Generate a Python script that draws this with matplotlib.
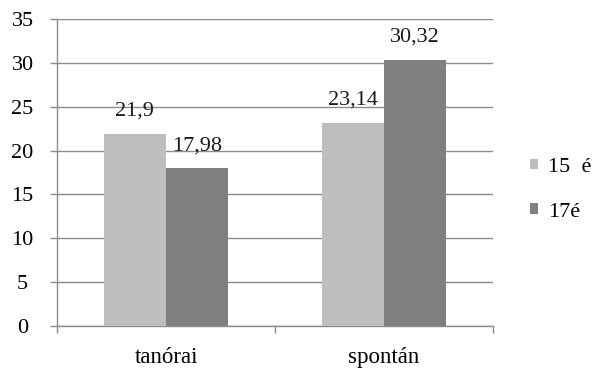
import numpy as np
import matplotlib.pyplot as plt

categories = ['tanórai', 'spontán']
series_names = ['15  é', '17é']
values_15 = [21.9, 23.14]
values_17 = [17.98, 30.32]
value_labels_15 = ['21,9', '23,14']
value_labels_17 = ['17,98', '30,32']

plt.rcParams['font.family'] = ['Liberation Serif', 'DejaVu Serif']
FS = 16

fig = plt.figure(figsize=(5.93, 3.70), dpi=100)
ax = fig.add_axes([0.0961, 0.1189, 0.7353, 0.8297])

x = np.arange(len(categories))
w = 0.285
colors = ['#bebebe', '#7f7f7f']

bars1 = ax.bar(x - w / 2, values_15, w, color=colors[0], label=series_names[0], zorder=3)
bars2 = ax.bar(x + w / 2, values_17, w, color=colors[1], label=series_names[1], zorder=3)

for bars, labels in [(bars1, value_labels_15), (bars2, value_labels_17)]:
    for b, lab in zip(bars, labels):
        ax.annotate(lab, (b.get_x() + b.get_width() / 2, b.get_height()),
                    xytext=(0, 13), textcoords='offset points',
                    ha='center', va='baseline', fontsize=FS, color='#1a1a1a')

ax.set_xlim(-0.5, 1.5)
ax.set_ylim(0, 35)
ax.set_yticks(np.arange(0, 36, 5))
ax.yaxis.grid(True, color='#8c8c8c', linewidth=1.0, zorder=0)
ax.set_axisbelow(True)

# category ticks sit between the groups, labels centred under them
ax.set_xticks([-0.5, 0.5, 1.5])
ax.set_xticklabels([])
ax.set_xticks(x, minor=True)
ax.set_xticklabels(categories, minor=True, fontsize=16.5)
ax.tick_params(axis='x', which='minor', length=0, pad=15)
ax.tick_params(axis='x', which='major', length=5, color='#8c8c8c', width=1)
ax.tick_params(axis='y', length=5, color='#8c8c8c', width=1, labelsize=FS, pad=19.8)
for t in ax.get_yticklabels():
    t.set_horizontalalignment('center')

for s in ['top', 'right']:
    ax.spines[s].set_visible(False)
for s in ['left', 'bottom']:
    ax.spines[s].set_color('#8c8c8c')
    ax.spines[s].set_linewidth(1.0)

ax.legend(loc='center left', bbox_to_anchor=(0.894, 0.487),
          bbox_transform=fig.transFigure, frameon=False, borderaxespad=0,
          borderpad=0, fontsize=FS, handlelength=0.36, handleheight=0.36,
          handletextpad=0.45, labelspacing=1.15)

fig.savefig('out.png', dpi=100)
